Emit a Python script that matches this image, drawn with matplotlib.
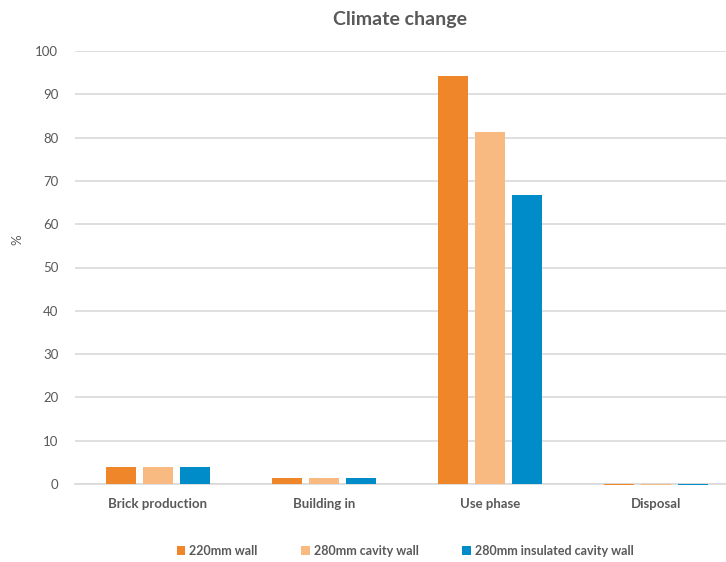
import numpy as np
import matplotlib
matplotlib.use("Agg")
import matplotlib.pyplot as plt

categories = ["Brick production", "Building in", "Use phase", "Disposal"]
series_names = ["220mm wall", "280mm cavity wall", "280mm insulated cavity wall"]
wall_220 = [4.0, 1.45, 94.2, -0.2]
cavity_280 = [4.0, 1.45, 81.3, -0.2]
insulated_280 = [4.0, 1.45, 66.7, -0.2]
colors = ["#F0862A", "#F8BA80", "#008CC8"]

plt.rcParams["font.family"] = ["Lato", "DejaVu Sans"]
TEXT = "#595959"

fig = plt.figure(figsize=(7.26, 5.62), dpi=100)
ax = fig.add_axes([75 / 726, 78 / 562, 664 / 726, 433 / 562])

x = np.arange(len(categories))
width = 0.18
step = 0.223
for i, (vals, name) in enumerate(zip([wall_220, cavity_280, insulated_280], series_names)):
    bars = ax.bar(x + (i - 1) * step, vals, width, color=colors[i], label=name, zorder=3)
    for b in bars:
        b.set_clip_on(False)

ax.set_xlim(-0.5, 3.5)
ax.set_ylim(0, 100)
ax.set_yticks(range(0, 101, 10))
ax.yaxis.grid(True, color="#D9D9D9", linewidth=1.2, zorder=0)
ax.set_xticks(x)
ax.set_xticklabels(categories, fontsize=9.5, fontweight="bold", color=TEXT)
ax.tick_params(axis="y", labelsize=9.5, labelcolor=TEXT, length=0, pad=12)
ax.tick_params(axis="x", length=0, pad=10)
for s in ["top", "right", "left"]:
    ax.spines[s].set_visible(False)
ax.spines["bottom"].set_color("#D9D9D9")
ax.spines["bottom"].set_linewidth(1.2)
ax.spines["bottom"].set_zorder(2)

fig.text(17 / 726, 1 - 240 / 562, "%", rotation=90, ha="center", va="center",
         fontsize=9.5, color=TEXT)
fig.text(400 / 726, 1 - 20 / 562, "Climate change", ha="center", va="center",
         fontsize=14, fontweight="bold", color=TEXT)

fig.legend(loc="center", bbox_to_anchor=(405 / 726, 1 - 551 / 562), ncol=3,
           frameon=False, prop={"weight": "bold", "size": 9},
           handlelength=0.7, handleheight=0.7, handletextpad=0.3, columnspacing=3.5,
           labelcolor=TEXT)

fig.savefig("out.png", dpi=100)
